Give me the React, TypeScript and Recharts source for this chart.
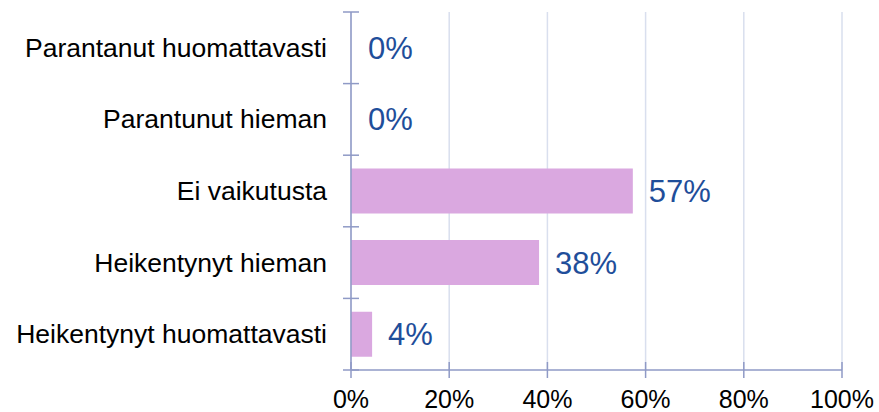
import { BarChart, Bar, XAxis, YAxis, CartesianGrid, LabelList, Cell } from 'recharts'

const categories = [
    'Parantanut huomattavasti',
    'Parantunut hieman',
    'Ei vaikutusta',
    'Heikentynyt hieman',
    'Heikentynyt huomattavasti',
]
const shares = [0, 0, 57.4, 38.3, 4.3]
const xTicks = [0, 20, 40, 60, 80, 100]

const axisColor = '#8F9AC6'
const gridColor = '#D9DFEE'
const barColor = '#DAA8E0'
const labelColor = '#1F4E9A'
const font = '"Liberation Sans", Arial, sans-serif'

const data = categories.map((name, i) => ({ name, value: shares[i] }))

const Y_MARGIN = 24

const YTick = (props: any) => {
    const { x, y, payload, index, visibleTicksCount } = props
    const ax = x + Y_MARGIN
    const half = payload.offset ?? 0
    return (
        <g>
            <text x={x} y={y} textAnchor="end" dominantBaseline="central" fontSize={26.5} fill="#000" fontFamily={font}>
                {payload.value}
            </text>
            <line x1={ax - 8} x2={ax + 8} y1={y - half} y2={y - half} stroke={axisColor} strokeWidth={1.5} />
            {index === visibleTicksCount - 1 && (
                <line x1={ax - 8} x2={ax + 8} y1={y + half} y2={y + half} stroke={axisColor} strokeWidth={1.5} />
            )}
        </g>
    )
}

const XTick = (props: any) => {
    const { x, y, payload } = props
    return (
        <g>
            <line x1={x} x2={x} y1={y - 8} y2={y + 8} stroke={axisColor} strokeWidth={1.5} />
            <text x={x} y={y + 38} textAnchor="middle" fontSize={25} fill="#000" fontFamily={font}>
                {`${payload.value}%`}
            </text>
        </g>
    )
}

export default function App() {
    return (
        <div style={{ position: 'fixed', left: 0, top: 0, background: '#fff' }}>
            <BarChart
                width={879}
                height={412}
                data={data}
                layout="vertical"
                margin={{ top: 12, right: 37, bottom: 0, left: 0 }}
                barCategoryGap="18.5%"
            >
                <CartesianGrid horizontal={false} stroke={gridColor} strokeWidth={1.5} />
                <XAxis
                    type="number"
                    domain={[0, 100]}
                    ticks={xTicks}
                    height={42}
                    tickLine={false}
                    tickSize={0}
                    tickMargin={0}
                    axisLine={{ stroke: axisColor, strokeWidth: 1.5 }}
                    tick={<XTick />}
                    interval={0}
                />
                <YAxis
                    type="category"
                    dataKey="name"
                    width={351}
                    tickLine={false}
                    tickSize={0}
                    tickMargin={Y_MARGIN}
                    axisLine={{ stroke: axisColor, strokeWidth: 1.5 }}
                    tick={<YTick />}
                    interval={0}
                />
                <Bar dataKey="value" fill={barColor} minPointSize={1} isAnimationActive={false}>
                    {data.map((d, i) => (
                        <Cell key={i} fill={d.value === 0 ? 'transparent' : barColor} />
                    ))}
                    <LabelList
                        dataKey="value"
                        position="right"
                        offset={16}
                        fill={labelColor}
                        fontSize={31}
                        fontFamily={font}
                        formatter={(v: any) => `${Math.round(Number(v))}%`}
                    />
                </Bar>
            </BarChart>
        </div>
    )
}
